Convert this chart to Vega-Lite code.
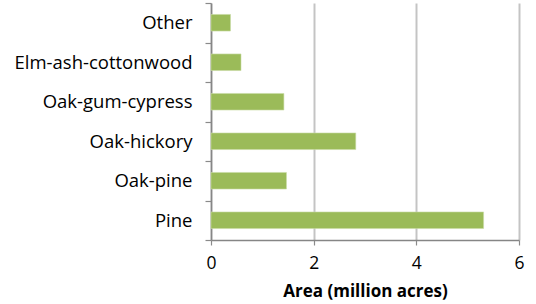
{
  "$schema": "https://vega.github.io/schema/vega-lite/v6.json",
  "autosize": {"type": "none"},
  "padding": {"left": 211, "top": 3, "right": 17, "bottom": 64},
  "width": 308,
  "height": 237,
  "background": "white",
  "config": {
    "view": {"stroke": null},
    "font": "Open Sans"
  },
  "data": {
    "values": [
      {"type": "Other", "area": 0.38},
      {"type": "Elm-ash-cottonwood", "area": 0.585},
      {"type": "Oak-gum-cypress", "area": 1.42},
      {"type": "Oak-hickory", "area": 2.82},
      {"type": "Oak-pine", "area": 1.47},
      {"type": "Pine", "area": 5.31}
    ]
  },
  "mark": {"type": "bar", "color": "#9BBB59", "stroke": "#c9dba6", "strokeWidth": 0.6, "height": {"band": 0.42}},
  "encoding": {
    "y": {
      "field": "type",
      "type": "nominal",
      "sort": ["Other", "Elm-ash-cottonwood", "Oak-gum-cypress", "Oak-hickory", "Oak-pine", "Pine"],
      "scale": {"paddingInner": 0, "paddingOuter": 0},
      "axis": {
        "title": null,
        "tickBand": "extent",
        "tickSize": 6,
        "tickWidth": 1.2,
        "tickColor": "#8a8a8a",
        "domainColor": "#868686",
        "domainWidth": 1.5,
        "labelFontSize": 18.5,
        "labelColor": "#000000",
        "labelPadding": 13,
        "labelFont": "Open Sans"
      }
    },
    "x": {
      "field": "area",
      "type": "quantitative",
      "scale": {"domain": [0, 6], "nice": false},
      "axis": {
        "title": "Area (million acres)",
        "titleFontSize": 17,
        "titleFontWeight": "bold",
        "titleColor": "#000000",
        "titlePadding": 12,
        "values": [0, 2, 4, 6],
        "format": "d",
        "tickSize": 5,
        "tickWidth": 1.2,
        "tickColor": "#8a8a8a",
        "domainColor": "#868686",
        "domainWidth": 1.5,
        "gridColor": "#c4c4c4",
        "gridWidth": 2,
        "labelFontSize": 17.5,
        "labelColor": "#000000",
        "labelPadding": 9,
        "labelFlush": false
      }
    }
  }
}
